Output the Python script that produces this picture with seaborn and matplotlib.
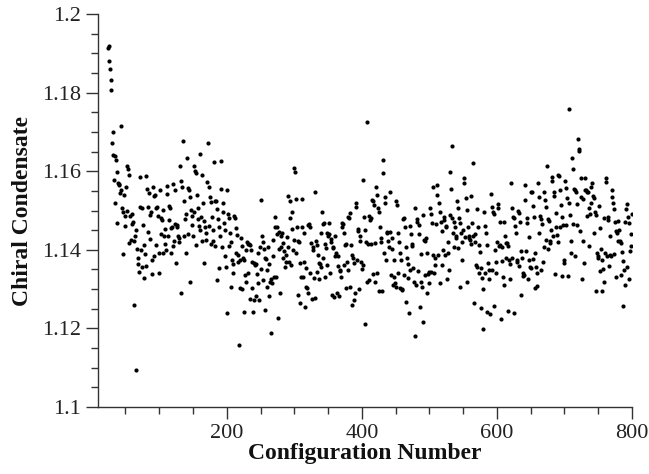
import matplotlib
matplotlib.use("Agg")
import numpy as np
import pandas as pd
import seaborn as sns
import matplotlib.pyplot as plt
from matplotlib.ticker import MultipleLocator, FuncFormatter

# configurations 24..800, one chiral condensate value per configuration
first_config = 24
last_config = 800

cond_a = [  # configs 24-200
    1.1913, 1.1919, 1.1880, 1.1861, 1.1832, 1.1806, 1.1671,
    1.1699, 1.1641, 1.1578, 1.1639, 1.1520, 1.1629, 1.1468, 1.1598, 1.1571, 1.1568,
    1.1565, 1.1545, 1.1716, 1.1552, 1.1506, 1.1389, 1.1495, 1.1540, 1.1486, 1.1460,
    1.1559, 1.1613, 1.1498, 1.1606, 1.1418, 1.1590, 1.1485, 1.1425, 1.1466, 1.1490,
    1.1472, 1.1423, 1.1260, 1.1435, 1.1451, 1.1094, 1.1401, 1.1378, 1.1364, 1.1344,
    1.1585, 1.1510, 1.1400, 1.1506, 1.1355, 1.1462, 1.1412, 1.1328, 1.1389, 1.1359,
    1.1588, 1.1554, 1.1510, 1.1446, 1.1544, 1.1489, 1.1427, 1.1495, 1.1373, 1.1338,
    1.1559, 1.1537, 1.1383, 1.1540, 1.1506, 1.1412, 1.1508, 1.1485, 1.1393, 1.1340,
    1.1552, 1.1480, 1.1441, 1.1476, 1.1501, 1.1393, 1.1435, 1.1452, 1.1415, 1.1400,
    1.1562, 1.1542, 1.1434, 1.1511, 1.1476, 1.1506, 1.1455, 1.1391, 1.1457, 1.1410,
    1.1568, 1.1423, 1.1552, 1.1466, 1.1366, 1.1463, 1.1459, 1.1434, 1.1429, 1.1421,
    1.1613, 1.1291, 1.1576, 1.1561, 1.1677, 1.1434, 1.1523, 1.1478, 1.1393, 1.1490,
    1.1633, 1.1556, 1.1440, 1.1552, 1.1535, 1.1319, 1.1501, 1.1486, 1.1463, 1.1434,
    1.1613, 1.1497, 1.1601, 1.1412, 1.1596, 1.1539, 1.1506, 1.1478, 1.1461, 1.1451,
    1.1643, 1.1484, 1.1590, 1.1423, 1.1520, 1.1474, 1.1367, 1.1457, 1.1442, 1.1425,
    1.1573, 1.1673, 1.1461, 1.1561, 1.1535, 1.1415, 1.1521, 1.1484, 1.1423, 1.1450,
    1.1624, 1.1524, 1.1410, 1.1523, 1.1503, 1.1323, 1.1478, 1.1457, 1.1353, 1.1434,
    1.1627, 1.1555, 1.1408, 1.1520, 1.1497, 1.1467, 1.1451, 1.1383, 1.1357, 1.1240,
]

cond_b = [  # configs 201-400
    1.1552, 1.1491, 1.1410, 1.1480, 1.1444, 1.1305, 1.1421, 1.1373, 1.1364, 1.1342,
    1.1486, 1.1480, 1.1393, 1.1455, 1.1438, 1.1387, 1.1368, 1.1158, 1.1302, 1.1374,
    1.1429, 1.1410, 1.1299, 1.1378, 1.1374, 1.1243, 1.1336, 1.1319, 1.1400, 1.1420,
    1.1416, 1.1340, 1.1415, 1.1412, 1.1274, 1.1400, 1.1370, 1.1302, 1.1243, 1.1271,
    1.1366, 1.1361, 1.1283, 1.1364, 1.1339, 1.1391, 1.1315, 1.1272, 1.1408, 1.1350,
    1.1527, 1.1436, 1.1323, 1.1421, 1.1401, 1.1247, 1.1378, 1.1376, 1.1306, 1.1348,
    1.1408, 1.1363, 1.1283, 1.1319, 1.1325, 1.1188, 1.1316, 1.1383, 1.1425, 1.1332,
    1.1484, 1.1459, 1.1330, 1.1457, 1.1440, 1.1226, 1.1446, 1.1401, 1.1291, 1.1408,
    1.1436, 1.1442, 1.1378, 1.1418, 1.1398, 1.1357, 1.1387, 1.1370, 1.1432, 1.1408,
    1.1537, 1.1370, 1.1523, 1.1482, 1.1361, 1.1497, 1.1452, 1.1400, 1.1607, 1.1425,
    1.1599, 1.1529, 1.1391, 1.1459, 1.1423, 1.1285, 1.1421, 1.1366, 1.1264, 1.1332,
    1.1529, 1.1459, 1.1332, 1.1442, 1.1370, 1.1255, 1.1353, 1.1306, 1.1302, 1.1291,
    1.1463, 1.1466, 1.1342, 1.1457, 1.1418, 1.1274, 1.1406, 1.1400, 1.1329, 1.1277,
    1.1546, 1.1422, 1.1344, 1.1412, 1.1387, 1.1325, 1.1366, 1.1364, 1.1357, 1.1444,
    1.1497, 1.1466, 1.1378, 1.1469, 1.1415, 1.1332, 1.1404, 1.1361, 1.1442, 1.1434,
    1.1467, 1.1439, 1.1340, 1.1421, 1.1427, 1.1285, 1.1408, 1.1404, 1.1281, 1.1383,
    1.1434, 1.1393, 1.1291, 1.1383, 1.1359, 1.1283, 1.1349, 1.1345, 1.1332, 1.1459,
    1.1467, 1.1466, 1.1361, 1.1444, 1.1412, 1.1302, 1.1414, 1.1370, 1.1349, 1.1484,
    1.1482, 1.1494, 1.1305, 1.1412, 1.1387, 1.1260, 1.1378, 1.1366, 1.1272, 1.1289,
    1.1518, 1.1508, 1.1374, 1.1447, 1.1452, 1.1299, 1.1434, 1.1423, 1.1370, 1.1350,
]

cond_c = [  # configs 401-600
    1.1578, 1.1361, 1.1484, 1.1451, 1.1211, 1.1421, 1.1319, 1.1726, 1.1416, 1.1323,
    1.1485, 1.1476, 1.1416, 1.1480, 1.1527, 1.1338, 1.1523, 1.1514, 1.1418, 1.1319,
    1.1561, 1.1539, 1.1340, 1.1506, 1.1497, 1.1295, 1.1457, 1.1421, 1.1429, 1.1294,
    1.1629, 1.1595, 1.1393, 1.1535, 1.1518, 1.1373, 1.1446, 1.1442, 1.1423, 1.1408,
    1.1546, 1.1446, 1.1336, 1.1429, 1.1401, 1.1311, 1.1373, 1.1332, 1.1315, 1.1305,
    1.1523, 1.1514, 1.1340, 1.1442, 1.1419, 1.1302, 1.1391, 1.1374, 1.1299, 1.1298,
    1.1478, 1.1480, 1.1336, 1.1459, 1.1408, 1.1268, 1.1378, 1.1364, 1.1328, 1.1240,
    1.1461, 1.1349, 1.1440, 1.1416, 1.1410, 1.1353, 1.1319, 1.1181, 1.1507, 1.1311,
    1.1478, 1.1472, 1.1345, 1.1463, 1.1440, 1.1255, 1.1389, 1.1319, 1.1306, 1.1217,
    1.1489, 1.1425, 1.1336, 1.1423, 1.1429, 1.1291, 1.1391, 1.1338, 1.1344, 1.1315,
    1.1506, 1.1491, 1.1344, 1.1467, 1.1387, 1.1561, 1.1340, 1.1378, 1.1361, 1.1465,
    1.1565, 1.1539, 1.1387, 1.1518, 1.1495, 1.1315, 1.1472, 1.1449, 1.1361, 1.1400,
    1.1484, 1.1476, 1.1387, 1.1459, 1.1461, 1.1325, 1.1421, 1.1391, 1.1349, 1.1489,
    1.1599, 1.1555, 1.1664, 1.1480, 1.1442, 1.1408, 1.1472, 1.1459, 1.1435, 1.1429,
    1.1523, 1.1506, 1.1404, 1.1480, 1.1306, 1.1467, 1.1442, 1.1421, 1.1374, 1.1451,
    1.1582, 1.1571, 1.1432, 1.1531, 1.1501, 1.1319, 1.1457, 1.1429, 1.1434, 1.1425,
    1.1537, 1.1415, 1.1467, 1.1435, 1.1620, 1.1264, 1.1440, 1.1421, 1.1361, 1.1355,
    1.1504, 1.1457, 1.1340, 1.1412, 1.1395, 1.1251, 1.1353, 1.1328, 1.1299, 1.1198,
    1.1497, 1.1461, 1.1342, 1.1442, 1.1412, 1.1243, 1.1366, 1.1349, 1.1325, 1.1237,
    1.1542, 1.1510, 1.1349, 1.1497, 1.1490, 1.1258, 1.1400, 1.1370, 1.1340, 1.1420,
]

cond_d = [  # configs 601-800
    1.1517, 1.1506, 1.1410, 1.1472, 1.1412, 1.1223, 1.1408, 1.1372, 1.1332, 1.1311,
    1.1472, 1.1435, 1.1380, 1.1418, 1.1418, 1.1245, 1.1410, 1.1374, 1.1364, 1.1325,
    1.1571, 1.1506, 1.1378, 1.1484, 1.1480, 1.1240, 1.1461, 1.1442, 1.1370, 1.1374,
    1.1500, 1.1493, 1.1359, 1.1472, 1.1398, 1.1285, 1.1378, 1.1340, 1.1333, 1.1336,
    1.1565, 1.1527, 1.1398, 1.1480, 1.1467, 1.1325, 1.1433, 1.1374, 1.1355, 1.1353,
    1.1548, 1.1546, 1.1376, 1.1512, 1.1483, 1.1304, 1.1391, 1.1357, 1.1340, 1.1308,
    1.1571, 1.1535, 1.1442, 1.1486, 1.1478, 1.1349, 1.1466, 1.1370, 1.1548, 1.1408,
    1.1527, 1.1425, 1.1508, 1.1613, 1.1478, 1.1401, 1.1474, 1.1423, 1.1418, 1.1450,
    1.1584, 1.1576, 1.1435, 1.1546, 1.1537, 1.1338, 1.1494, 1.1457, 1.1438, 1.1421,
    1.1590, 1.1588, 1.1457, 1.1552, 1.1514, 1.1333, 1.1484, 1.1463, 1.1374, 1.1366,
    1.1576, 1.1463, 1.1557, 1.1531, 1.1334, 1.1520, 1.1757, 1.1489, 1.1423, 1.1391,
    1.1633, 1.1606, 1.1466, 1.1554, 1.1551, 1.1384, 1.1548, 1.1517, 1.1463, 1.1681,
    1.1656, 1.1652, 1.1449, 1.1582, 1.1535, 1.1325, 1.1528, 1.1423, 1.1366, 1.1552,
    1.1582, 1.1551, 1.1486, 1.1548, 1.1546, 1.1410, 1.1506, 1.1491, 1.1520, 1.1561,
    1.1571, 1.1537, 1.1442, 1.1533, 1.1495, 1.1294, 1.1489, 1.1391, 1.1384, 1.1378,
    1.1512, 1.1455, 1.1347, 1.1401, 1.1373, 1.1296, 1.1350, 1.1319, 1.1480, 1.1391,
    1.1582, 1.1573, 1.1383, 1.1476, 1.1484, 1.1359, 1.1435, 1.1387, 1.1383, 1.1534,
    1.1552, 1.1518, 1.1389, 1.1503, 1.1472, 1.1330, 1.1449, 1.1444, 1.1474, 1.1423,
    1.1451, 1.1423, 1.1336, 1.1418, 1.1395, 1.1258, 1.1372, 1.1349, 1.1311, 1.1472,
    1.1503, 1.1517, 1.1355, 1.1483, 1.1467, 1.1325, 1.1398, 1.1440, 1.1410, 1.1490,
]

condensate = cond_a + cond_b + cond_c + cond_d
config = np.arange(first_config, last_config + 1)
assert len(condensate) == len(config), (len(condensate), len(config))

df = pd.DataFrame({"config": config, "condensate": condensate})

x_ticks_major = 200
x_ticks_minor = 50
y_ticks_major = 0.02
y_ticks_minor = 0.005

sns.set_theme(style="ticks")
plt.rcParams["font.family"] = ["Liberation Serif", "DejaVu Serif"]

fig = plt.figure(figsize=(6.49, 4.74), dpi=100)
ax = fig.add_axes([98 / 649, 1 - 407 / 474, (632 - 98) / 649, (407 - 14) / 474])

sns.scatterplot(data=df, x="config", y="condensate", color="black",
                s=9, linewidth=0, ax=ax, legend=False)

ax.set_xlim(9.4, 800)
ax.set_ylim(1.1, 1.2)
ax.xaxis.set_major_locator(MultipleLocator(x_ticks_major))
ax.xaxis.set_minor_locator(MultipleLocator(x_ticks_minor))
ax.yaxis.set_major_locator(MultipleLocator(y_ticks_major))
ax.yaxis.set_minor_locator(MultipleLocator(y_ticks_minor))
ax.yaxis.set_major_formatter(FuncFormatter(lambda v, p: f"{v:g}"))
ax.xaxis.set_major_formatter(FuncFormatter(lambda v, p: f"{v:g}"))

spine_col = "#333333"
for s in ["top", "right"]:
    ax.spines[s].set_visible(False)
for s in ["left", "bottom"]:
    ax.spines[s].set_color(spine_col)
    ax.spines[s].set_linewidth(1.0)

ax.tick_params(which="major", direction="out", length=8.5, width=1.0,
               color=spine_col, labelsize=16, labelcolor="#222222", pad=4)
ax.tick_params(which="minor", direction="out", length=5.2, width=1.0,
               color=spine_col)

ax.set_xlabel("Configuration Number", fontsize=17, fontweight="bold",
              color="#111111", labelpad=0)
ax.set_ylabel("Chiral Condensate", fontsize=17, fontweight="bold",
              color="#111111", labelpad=6)

fig.savefig("out.png", dpi=100)
